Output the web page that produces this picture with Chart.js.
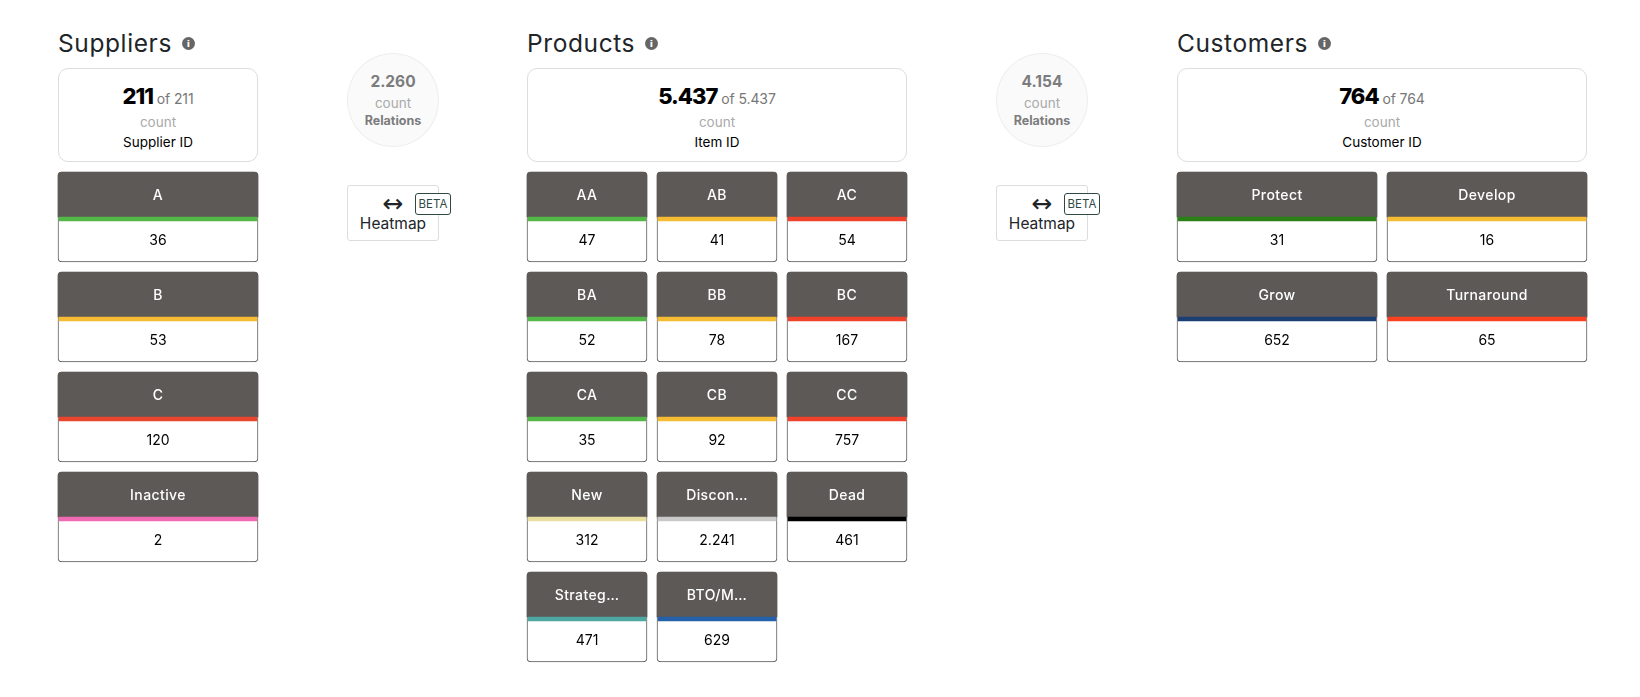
<!DOCTYPE html>
<html>
<head>
<meta charset="utf-8">
<title>Suppliers, products, customers</title>
<script src="https://cdn.jsdelivr.net/npm/chart.js@4"></script>
<style>
html, body { margin: 0; padding: 0; background: #fff; }
body { width: 1640px; height: 697px; position: relative; overflow: hidden; font-family: Inter, "Open Sans", sans-serif; }
.abs { position: absolute; box-sizing: border-box; }
.line { position: absolute; left: 0; right: 0; text-align: center; transform: translateY(-50%); white-space: nowrap; }
.title { font-size: 24.5px; color: #212529; line-height: 30px; letter-spacing: 0.6px; white-space: nowrap; }
.info { width: 13px; height: 13px; border-radius: 50%; background: #666; color: #fff; font: bold 9.5px/13px "DejaVu Sans", sans-serif; text-align: center; }
.card { border: 1px solid #ddd; border-radius: 10px; background: #fff; }
.big { font-size: 22px; font-weight: 800; color: #000; letter-spacing: -1px; }
.of { font-size: 14px; color: #777; letter-spacing: -0.1px; }
.count { font-size: 13.5px; color: #aaa; }
.idname { font-size: 13.5px; color: #000; }
.bubble { border: 1px solid #eee; border-radius: 50%; background: #fafafa; }
.rel { font-size: 15.5px; font-weight: 700; color: #7c7c7e; }
.relname { font-size: 12.5px; font-weight: 700; color: #7c7c7e; }
.heat { border: 1px solid #ddd; border-radius: 3px; background: #fff; }
.arrow { font: 25px "DejaVu Sans", sans-serif; color: #212529; }
.heatname { font-size: 15.5px; color: #212529; }
.beta { border: 1px solid #2f4a45; border-radius: 3px; background: #fff; color: #2f4a45; font-size: 11.5px; line-height: 20px; text-align: center; }
canvas { position: absolute; }
</style>
</head>
<body>
<script>
// Suppliers
const supplierLabels = ['A', 'B', 'C', 'Inactive'];
const supplierValues = [36, 53, 120, 2];
const supplierColors = ['#54b848', '#f5bb33', '#e8452c', '#f06bb4'];
// Products
const productLabels = ['AA', 'AB', 'AC', 'BA', 'BB', 'BC', 'CA', 'CB', 'CC', 'New', 'Discon…', 'Dead', 'Strateg…', 'BTO/M…'];
const productValues = [47, 41, 54, 52, 78, 167, 35, 92, 757, 312, 2241, 461, 471, 629];
const productColors = ['#54b848', '#f5bb33', '#f0422a', '#54b848', '#f5bb33', '#f0422a', '#54b848', '#f5bb33', '#f0422a', '#e8df9f', '#c9c9c9', '#000000', '#4fa7a1', '#2461ab'];
// Customers
const customerLabels = ['Protect', 'Develop', 'Grow', 'Turnaround'];
const customerValues = [31, 16, 652, 65];
const customerColors = ['#2b8017', '#f5bb33', '#1b3e73', '#fa4120'];
// Totals
const panelNames = ['Suppliers', 'Products', 'Customers'];
const panelIds = ['Supplier ID', 'Item ID', 'Customer ID'];
const panelCounts = [211, 5437, 764];
const relationCounts = [2260, 4154];

const HEADER_COLOR = '#5d5957';

// 5.437 style numbers
function fmt(n) {
    return n.toLocaleString('de-DE');
}

function addEl(parent, cls, x, y, w, h, text) {
    let el = document.createElement('div');
    el.className = cls;
    if (x !== null) el.style.left = x + 'px';
    if (y !== null) el.style.top = y + 'px';
    if (w !== null) el.style.width = w + 'px';
    if (h !== null) el.style.height = h + 'px';
    if (text !== undefined) el.textContent = text;
    parent.appendChild(el);
    return el;
}

function addLine(parent, y, parts) {
    let line = addEl(parent, 'line', null, y, null, null);
    parts.forEach(function(p, i) {
        let s = document.createElement('span');
        s.className = p[0];
        s.textContent = (i > 0 ? ' ' : '') + p[1];
        line.appendChild(s);
    });
}

function addSummary(i, x, w) {
    let t = addEl(document.body, 'abs title', x, 28, null, 30, panelNames[i]);
    addEl(document.body, 'abs info', x + t.offsetWidth + 10, 37, null, null, 'i');
    let card = addEl(document.body, 'abs card', x, 68, w, 94);
    addLine(card, 27, [['big', fmt(panelCounts[i])], ['of', 'of ' + fmt(panelCounts[i])]]);
    addLine(card, 52, [['count', 'count']]);
    addLine(card, 72, [['idname', panelIds[i]]]);
}

function addRelation(i, x) {
    let b = addEl(document.body, 'abs bubble', x, 53, 92, 94);
    addLine(b, 27, [['rel', fmt(relationCounts[i])]]);
    addLine(b, 48, [['count', 'count']]);
    addLine(b, 65, [['relname', 'Relations']]);
    let h = addEl(document.body, 'abs heat', x, 185, 92, 56);
    addLine(h, 17, [['arrow', '↔']]);
    addLine(h, 37, [['heatname', 'Heatmap']]);
    addEl(document.body, 'abs beta', x + 68, 193, 36, 22, 'BETA');
}

// Value labels on top of the tiles, placed from the bar elements
const tileText = {
    id: 'tileText',
    afterDatasetsDraw: function(chart) {
        const ctx = chart.ctx;
        const opts = chart.options.plugins.tileText;
        const header = chart.getDatasetMeta(1).data;
        const stripe = chart.getDatasetMeta(0).data;
        const body = chart.getDatasetMeta(2).data;
        ctx.save();
        ctx.textAlign = 'center';
        ctx.textBaseline = 'middle';
        ctx.font = '500 14px Inter, sans-serif';
        ctx.letterSpacing = '0.4px';
        ctx.fillStyle = '#ffffff';
        header.forEach(function(bar, i) {
            ctx.fillText(opts.labels[i], bar.x, (bar.base + bar.y) / 2 + 1);
        });
        ctx.font = '14px Inter, sans-serif';
        ctx.letterSpacing = '0px';
        ctx.fillStyle = '#000000';
        body.forEach(function(bar, i) {
            let stripeBottom = Math.max(stripe[i].base, stripe[i].y);
            let tileBottom = Math.max(bar.base, bar.y);
            ctx.fillText(fmt(opts.values[i]), bar.x, (stripeBottom + tileBottom) / 2 - 0.5);
        });
        ctx.restore();
    }
};

// One tile is three floating bars on a column / row grid
function drawTiles(id, left, cols, tileWidth, labels, values, colors) {
    const canvas = document.createElement('canvas');
    canvas.id = id;
    canvas.width = cols * (tileWidth + 10);
    canvas.height = 500;
    canvas.style.left = left + 'px';
    canvas.style.top = '167px';
    document.body.appendChild(canvas);

    const columns = [];
    for (let c = 0; c < cols; c++) columns.push('col' + c);
    const rowOf = function(i) { return Math.floor(i / cols); };
    const cell = function(i, from, to) {
        return { x: columns[i % cols], y: [rowOf(i) + from, rowOf(i) + to] };
    };

    new Chart(canvas, {
        type: 'bar',
        data: {
            labels: columns,
            datasets: [
                {
                    label: 'stripe',
                    data: labels.map(function(l, i) { return cell(i, 0.5, 0.54); }),
                    backgroundColor: colors,
                    borderWidth: 0,
                    barThickness: tileWidth - 2
                },
                {
                    label: 'header',
                    data: labels.map(function(l, i) { return cell(i, 0.05, 0.5); }),
                    backgroundColor: HEADER_COLOR,
                    borderWidth: 0,
                    borderRadius: { topLeft: 4, topRight: 4, bottomLeft: 0, bottomRight: 0 },
                    borderSkipped: false,
                    barThickness: tileWidth
                },
                {
                    label: 'value',
                    data: labels.map(function(l, i) { return cell(i, 0.05, 0.95); }),
                    backgroundColor: '#ffffff',
                    borderColor: HEADER_COLOR,
                    borderWidth: 1,
                    borderRadius: 4,
                    borderSkipped: false,
                    barThickness: tileWidth
                }
            ]
        },
        options: {
            responsive: false,
            animation: false,
            layout: { padding: 0 },
            scales: {
                x: { display: false, stacked: true },
                y: { display: false, reverse: true, min: 0, max: 5 }
            },
            plugins: {
                legend: { display: false },
                tooltip: { enabled: false },
                tileText: { labels: labels, values: values }
            }
        },
        plugins: [tileText]
    });
}

addSummary(0, 58, 200);
addSummary(1, 527, 380);
addSummary(2, 1177, 410);
addRelation(0, 347);
addRelation(1, 996);

drawTiles('suppliers', 53, 1, 200, supplierLabels, supplierValues, supplierColors);
drawTiles('products', 522, 3, 120, productLabels, productValues, productColors);
drawTiles('customers', 1172, 2, 200, customerLabels, customerValues, customerColors);
</script>
</body>
</html>
